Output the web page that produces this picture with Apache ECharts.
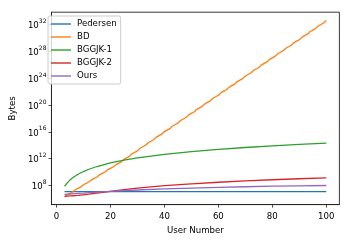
<!DOCTYPE html>
<html>
<head>
<meta charset="utf-8">
<script src="https://cdn.jsdelivr.net/npm/echarts@6/dist/echarts.min.js"></script>
<style>
html,body{margin:0;padding:0;background:#fff;}
#c{width:346px;height:245px;}
</style>
</head>
<body>
<div id="c"></div>
<script>
// Series names
const seriesNames = ['Pedersen', 'BD', 'BGGJK-1', 'BGGJK-2', 'Ours'];

// Y values are stored as log10(Bytes)
const sampleUsers = [3, 4, 5, 6, 8, 10, 12, 15, 20, 25, 30, 40, 50, 60, 70, 80, 90, 100];
const pedersenLog10 = [7.07, 7.07, 7.07, 7.07, 7.07, 7.07, 7.07, 7.07, 7.07, 7.07, 7.07, 7.07, 7.07, 7.07, 7.07, 7.07, 7.07, 7.07];
const bggjk1Log10 = [7.85, 8.38, 8.79, 9.13, 9.66, 10.07, 10.41, 10.82, 11.35, 11.76, 12.10, 12.63, 13.04, 13.38, 13.66, 13.91, 14.13, 14.32];
const bggjk2Log10 = [6.40, 6.41, 6.43, 6.45, 6.50, 6.59, 6.68, 6.85, 7.12, 7.37, 7.59, 7.95, 8.23, 8.47, 8.67, 8.84, 8.99, 9.13];
const oursLog10 = [6.65, 6.68, 6.71, 6.74, 6.80, 6.85, 6.91, 6.99, 7.11, 7.22, 7.31, 7.47, 7.60, 7.70, 7.80, 7.88, 7.93, 7.98];

const bdUsers = [3, 4, 5, 6, 7, 8, 9, 10, 11, 12, 13, 14, 15, 16, 17, 18, 19, 20, 21, 22, 23, 24, 25, 26, 27, 28, 29, 30,
  31, 32, 33, 34, 35, 36, 37, 38, 39, 40, 41, 42, 43, 44, 45, 46, 47, 48, 49, 50, 51, 52, 53, 54, 55, 56, 57, 58, 59, 60,
  61, 62, 63, 64, 65, 66, 67, 68, 69, 70, 71, 72, 73, 74, 75, 76, 77, 78, 79, 80, 81, 82, 83, 84, 85, 86, 87, 88, 89, 90,
  91, 92, 93, 94, 95, 96, 97, 98, 99, 100];
const bdLog10 = [6.25, 6.60, 6.80, 7.00, 7.35, 7.55, 7.75, 8.10, 8.30, 8.50, 8.85, 9.05, 9.25, 9.60, 9.80, 10.00, 10.35, 10.55,
  10.75, 11.10, 11.30, 11.50, 11.89, 12.11, 12.33, 12.72, 12.94, 13.16, 13.55, 13.77, 13.99, 14.38, 14.60, 14.82, 15.21,
  15.43, 15.65, 16.04, 16.26, 16.48, 16.87, 17.09, 17.31, 17.70, 17.92, 18.14, 18.53, 18.75, 18.97, 19.36, 19.58, 19.80,
  20.19, 20.41, 20.63, 21.02, 21.24, 21.46, 21.85, 22.07, 22.29, 22.68, 22.90, 23.12, 23.51, 23.73, 23.95, 24.34, 24.56,
  24.78, 25.17, 25.39, 25.61, 26.00, 26.22, 26.44, 26.83, 27.05, 27.27, 27.66, 27.88, 28.10, 28.49, 28.71, 28.93, 29.32,
  29.54, 29.76, 30.15, 30.37, 30.59, 30.98, 31.20, 31.42, 31.81, 32.03, 32.25, 32.64];

// Tick labels
const xTicks = [0, 20, 40, 60, 80, 100];
const yTickExponents = [8, 12, 16, 20, 24, 28, 32];

const colors = ['#1f77b4', '#ff7f0e', '#2ca02c', '#d62728', '#9467bd'];
const FONT = 'DejaVu Sans';

function pairs(xs, ys) { return xs.map((x, i) => [x, ys[i]]); }

const seriesData = [
  pairs(sampleUsers, pedersenLog10),
  pairs(bdUsers, bdLog10),
  pairs(sampleUsers, bggjk1Log10),
  pairs(sampleUsers, bggjk2Log10),
  pairs(sampleUsers, oursLog10)
];

const chart = echarts.init(document.getElementById('c'), null, {renderer: 'canvas'});
chart.setOption({
  animation: false,
  backgroundColor: '#fff',
  color: colors,
  textStyle: {fontFamily: FONT},
  grid: {left: 43.3, right: 6.6, top: 12.2, bottom: 40.4, show: true, borderColor: '#222', borderWidth: 0.9, backgroundColor: 'transparent'},
  legend: {
    orient: 'vertical', left: 48, top: 16,
    padding: [3, 4, 3, 3],
    icon: 'rect',
    itemWidth: 20, itemHeight: 1.4, itemGap: 3,
    backgroundColor: 'rgba(255,255,255,0.8)', borderColor: '#ccc', borderWidth: 1, borderRadius: 2,
    textStyle: {fontFamily: FONT, fontSize: 8.6, color: '#000', lineHeight: 10, padding: [0, 0, 0, 1]},
    data: seriesNames
  },
  xAxis: {
    type: 'value', min: -1.85, max: 104.85,
    name: 'User Number', nameLocation: 'middle', nameGap: 20,
    nameTextStyle: {fontFamily: FONT, fontSize: 8.6, color: '#000', verticalAlign: 'top'},
    splitLine: {show: false},
    axisLine: {show: true, onZero: false, lineStyle: {color: '#222', width: 0.9}},
    axisTick: {show: true, length: 3, lineStyle: {color: '#222', width: 0.8}, customValues: xTicks},
    axisLabel: {fontFamily: FONT, fontSize: 8.6, color: '#000', margin: 8, customValues: xTicks}
  },
  yAxis: {
    type: 'value', min: 5.13, max: 33.87,
    name: 'Bytes', nameLocation: 'middle', nameGap: 26,
    nameTextStyle: {fontFamily: FONT, fontSize: 8.6, color: '#000'},
    splitLine: {show: false},
    axisLine: {show: true, onZero: false, lineStyle: {color: '#222', width: 0.9}},
    axisTick: {show: true, length: 3, lineStyle: {color: '#222', width: 0.8}, customValues: yTickExponents},
    axisLabel: {
      margin: 5, customValues: yTickExponents,
      formatter: v => '{b|10}{s|' + v + '}',
      rich: {
        b: {fontFamily: FONT, fontSize: 8.6, color: '#000', lineHeight: 12, verticalAlign: 'bottom'},
        s: {fontFamily: FONT, fontSize: 6, color: '#000', lineHeight: 7, verticalAlign: 'top'}
      }
    }
  },
  series: seriesNames.map((n, i) => ({
    name: n, type: 'line', data: seriesData[i], symbol: 'none', smooth: false,
    lineStyle: {width: 1.3, color: colors[i]}, itemStyle: {color: colors[i]}
  }))
});
</script>
</body>
</html>
